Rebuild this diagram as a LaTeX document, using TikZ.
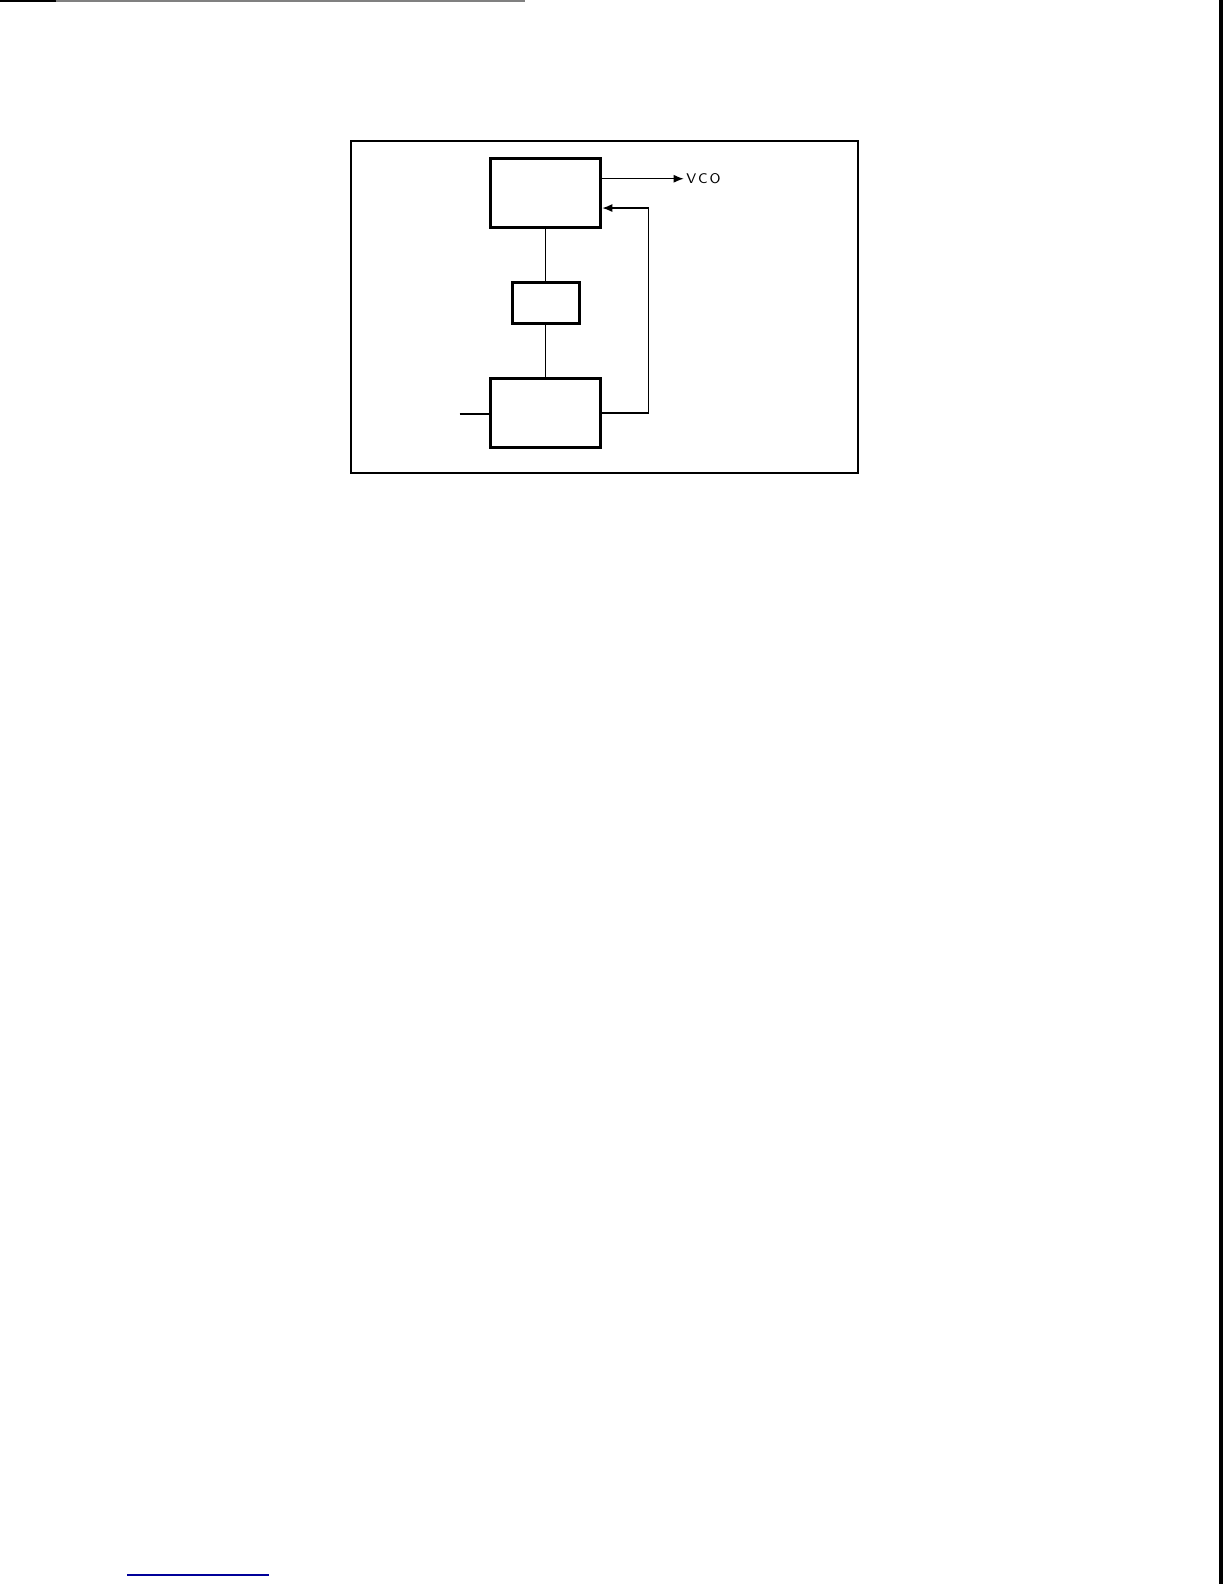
\documentclass[tikz,border=0pt]{standalone}
\usetikzlibrary{arrows.meta}
\tikzset{
  block/.style={draw, line width=1.5pt, minimum width=55pt, minimum height=34.3pt, inner sep=0pt},
  wire/.style={line width=0.6pt},
}
\begin{document}
\begin{tikzpicture}[x=0.505pt,y=-0.505pt]
    \useasboundingbox (0,0) rectangle (1212,1568.5);
    % page edges from the scan
    \draw[line width=1pt] (0,1) -- (55,1);
    \draw[gray, line width=0.8pt] (55,1) -- (520,1);
    \draw[line width=2pt] (1209,0) -- (1209,1568.5);
    \draw[blue!60!black, line width=1pt] (126,1560) -- (266,1560);
    % frame
    \draw[line width=1pt] (348,140) rectangle (850,468);
    % blocks
    \node[block] (osc) at (540.5,191) {};
    \node[block, minimum width=33.8pt, minimum height=20.2pt] (filt) at (540.5,300) {};
    \node[block] (det) at (540.5,409) {};
    \coordinate (in) at (455,410);
    \coordinate (fb) at (642,206);
    \coordinate (out) at (677,177);
    % connections
    \draw[wire] (osc.south) -- (filt.north);
    \draw[wire] (filt.south) -- (det.north);
    \draw[wire] (in) -- (in -| det.west);
    \draw[wire, -{Latex[length=5pt,width=4pt]}] (det.east) -| (fb) -- (osc.east |- fb);
    \draw[wire, -{Latex[length=5pt,width=4pt]}] (osc.east |- out) -- (out)
        node[right, inner sep=1pt] {\fontsize{7}{8}\selectfont\sffamily V\kern1pt C\kern1pt O};
\end{tikzpicture}
\end{document}
